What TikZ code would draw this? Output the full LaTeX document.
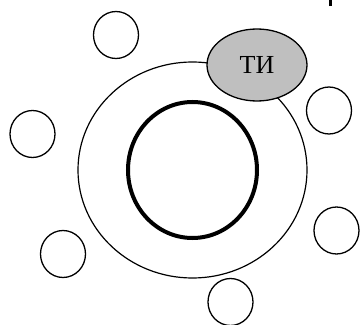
\documentclass[tikz,border=0pt]{standalone}
\usepackage{fontspec}
\setmainfont{Liberation Serif}
\usetikzlibrary{shapes.geometric}

\begin{document}
\begin{tikzpicture}[
    x=1pt, y=1pt,
    satellite/.style={ellipse, draw, line width=1.3pt, minimum width=45pt, minimum height=47pt, inner sep=0pt},
    ring/.style={ellipse, draw, inner sep=0pt}
  ]
  \useasboundingbox (0,0) rectangle (360,325);
  % rings
  \node[ring, line width=1.2pt, minimum width=229pt, minimum height=216pt] (outer) at (192.5,155) {};
  \node[ring, line width=4pt, minimum width=129pt, minimum height=136pt] (core) at (192.5,155) {};
  % small circles around
  \node[satellite] (s1) at (116,290) {};
  \node[satellite] (s2) at (32.5,191) {};
  \node[satellite] (s3) at (63,71) {};
  \node[satellite] (s4) at (230.5,23) {};
  \node[satellite] (s5) at (336.5,94.5) {};
  \node[satellite] (s6) at (329,214.5) {};
  % labelled one
  \node[ellipse, draw, line width=1.3pt, fill=black!25, minimum width=100pt, minimum height=72pt, inner sep=0pt,
        font=\fontsize{26}{26}\selectfont] (ti) at (257,260) {ТИ};
  \coordinate (tick) at (331,319);
  \draw[line width=3pt] (tick) -- (tick |- 0,325);
\end{tikzpicture}
\end{document}
